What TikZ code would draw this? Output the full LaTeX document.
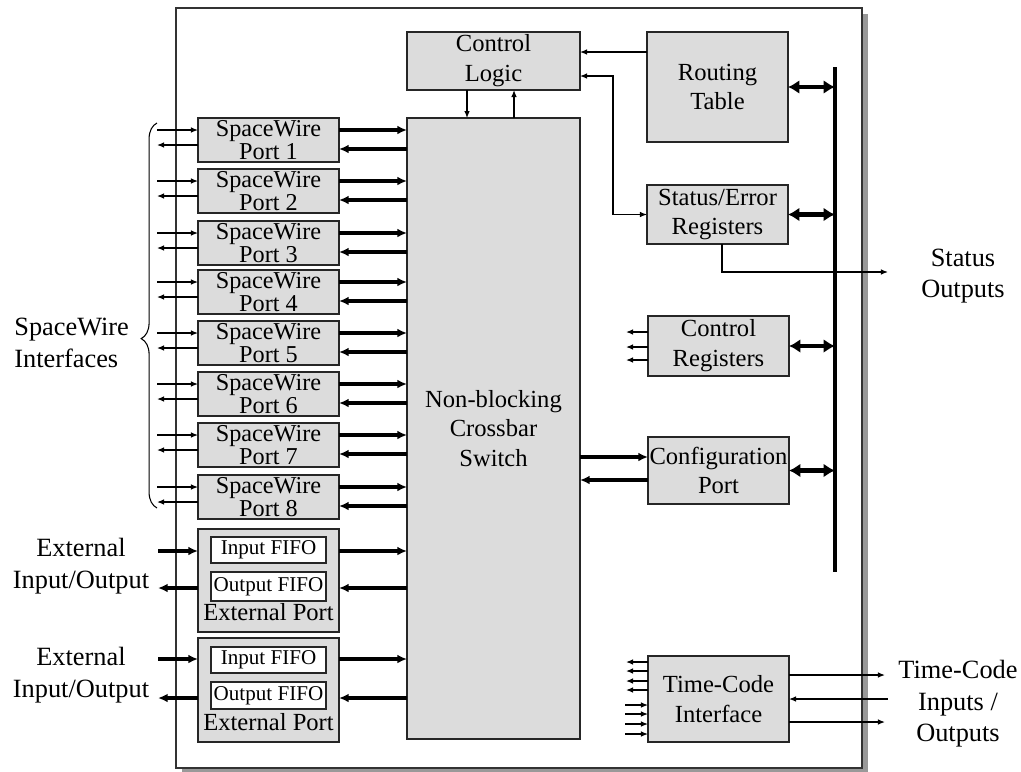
\documentclass[tikz,border=0pt]{standalone}
\usepackage{fontspec}
\setmainfont{Liberation Serif}
\usetikzlibrary{arrows.meta,calc,decorations.pathreplacing}
\definecolor{boxgray}{HTML}{DCDCDC}
\begin{document}
\begin{tikzpicture}[x=0.02cm,y=-0.02cm,
  box/.style={draw=black!85,line width=0.9pt,fill=boxgray,inner sep=0pt,outer sep=0pt,align=center,font=\fontsize{14}{17}\selectfont},
  port/.style={box,minimum width=2.82cm,minimum height=0.88cm,font=\fontsize{13.8}{11.5}\selectfont},
  fifo/.style={draw=black!85,line width=0.8pt,fill=white,inner sep=0pt,outer sep=0pt,minimum width=2.3cm,font=\fontsize{12}{14}\selectfont},
  lbl/.style={align=center,inner sep=0pt,font=\fontsize{15}{18}\selectfont},
  thinarr/.style={line width=0.7pt,-{Latex[length=4pt,width=3.2pt]}},
  thinboth/.style={line width=0.7pt,{Latex[length=4pt,width=3.2pt]}-{Latex[length=4pt,width=3.2pt]}},
  thickarr/.style={line width=1.9pt,-{Latex[length=5.5pt,width=5pt]}},
  dbl/.style={line width=2.4pt,{Latex[length=6.5pt,width=8pt]}-{Latex[length=6.5pt,width=8pt]}}]
\useasboundingbox (0,0) rectangle (1021,771);
% outer frame with shadow
\fill[black!40] (182,14) rectangle (868,776);
\node[draw=black!80,fill=white,line width=0.9pt,inner sep=0pt,outer sep=0pt,minimum width=13.72cm,minimum height=15.2cm] (frame) at (519,388) {};
% main boxes
\node[box,minimum width=3.46cm,minimum height=1.16cm] (ctrl) at (493.5,61) {Control\\Logic};
\node[box,minimum width=2.82cm,minimum height=2.2cm] (rt) at (717.5,87) {Routing\\Table};
\node[box,minimum width=2.82cm,minimum height=1.18cm] (ser) at (717.5,214.5) {Status/Error\\Registers};
\node[box,minimum width=2.82cm,minimum height=1.2cm] (cr) at (718.5,346) {Control\\Registers};
\node[box,minimum width=2.82cm,minimum height=1.34cm] (cfg) at (718.5,470.5) {Configuration\\Port};
\node[box,minimum width=2.82cm,minimum height=1.72cm] (tc) at (718.5,699) {Time-Code\\Interface};
\node[box,minimum width=3.46cm,minimum height=12.42cm] (xbar) at (493.5,428.5) {Non-blocking\\Crossbar\\Switch};
% bus
\coordinate (bt) at (835,67);
\coordinate (bb) at (835,572);
\draw[line width=2.6pt] (bt) -- (bb);
% SpaceWire ports
\foreach \i/\t in {1/119,2/170,3/222,4/271,5/322,6/373,7/424,8/476} {
  \node[port] (p\i) at (268.5,\t+21) {SpaceWire\\Port \i};
  \coordinate (a\i) at ($(p\i.north east)+(0,12)$);
  \coordinate (b\i) at ($(p\i.north east)+(0,31)$);
  \draw[thickarr] (a\i) -- (a\i -| xbar.west);
  \draw[thickarr] (b\i -| xbar.west) -- (b\i);
  \draw[thinarr] ($(p\i.north west)+(-41,12)$) -- ($(p\i.north west)+(0,12)$);
  \draw[thinarr] ($(p\i.north west)+(0,27)$) -- ++(-41,0);
}
% brace and label
\draw[line width=0.6pt,decorate,decoration={brace,amplitude=9pt,aspect=0.44}] (157,508) -- (157,123);
\node[lbl,align=left,anchor=west] (swi) at (14,343) {SpaceWire\\Interfaces};
% external ports
\node[box,minimum width=2.82cm,minimum height=2.06cm] (ext1) at (268.5,580.5) {};
\node[fifo,minimum height=0.52cm] (if1) at (268.5,550) {Input FIFO};
\node[fifo,minimum height=0.58cm] (of1) at (268.5,586.5) {Output FIFO};
\node[inner sep=0pt,font=\fontsize{14}{17}\selectfont] (ep1) at (268.5,612) {External Port};
\node[box,minimum width=2.82cm,minimum height=2.08cm] (ext2) at (268.5,690) {};
\node[fifo,minimum height=0.52cm] (if2) at (268.5,660) {Input FIFO};
\node[fifo,minimum height=0.54cm] (of2) at (268.5,695.5) {Output FIFO};
\node[inner sep=0pt,font=\fontsize{14}{17}\selectfont] (ep2) at (268.5,722) {External Port};
\node[lbl] (eio1) at (81,566) {External\\Input/Output};
\node[lbl] (eio2) at (81,675) {External\\Input/Output};
\coordinate (e1) at ($(ext1.north west)+(0,22)$);
\coordinate (e2) at ($(ext1.north west)+(0,59)$);
\coordinate (e3) at ($(ext2.north west)+(0,21)$);
\coordinate (e4) at ($(ext2.north west)+(0,60)$);
\draw[thickarr] ($(e1)+(-40,0)$) -- (e1);
\draw[thickarr] (e2) -- ++(-40,0);
\draw[thickarr] ($(e3)+(-40,0)$) -- (e3);
\draw[thickarr] (e4) -- ++(-40,0);
\draw[thickarr] (e1 -| ext1.east) -- (e1 -| xbar.west);
\draw[thickarr] (e2 -| xbar.west) -- (e2 -| ext1.east);
\draw[thickarr] (e3 -| ext2.east) -- (e3 -| xbar.west);
\draw[thickarr] (e4 -| xbar.west) -- (e4 -| ext2.east);
% control logic links
\draw[thinarr] ($(ctrl.south west)+(60,0)$) -- ($(xbar.north west)+(60,0)$);
\draw[thinarr] ($(xbar.north west)+(107,0)$) -- ($(ctrl.south west)+(107,0)$);
\coordinate (q1) at ($(rt.north west)+(0,20)$);
\draw[thinarr] (q1) -- (q1 -| ctrl.east);
\coordinate (q2) at ($(ctrl.north east)+(0,44)$);
\draw[thinboth] (q2) -- ++(33,0) |- (ser.west);
% status outputs
\coordinate (q3) at ($(ser.south west)+(75,0)$);
\coordinate (so) at (888,272);
\draw[thinarr] (q3) |- (so);
\node[lbl] (sout) at (963,276) {Status\\Outputs};
% bus double arrows
\draw[dbl] (rt.east) -- (rt.east -| bt);
\draw[dbl] (ser.east) -- (ser.east -| bt);
\draw[dbl] (cr.east) -- (cr.east -| bt);
\draw[dbl] (cfg.east) -- (cfg.east -| bt);
% control register outputs
\foreach \d in {16,31,44} \draw[thinarr] ($(cr.north west)+(0,\d)$) -- ++(-22,0);
% configuration port links
\coordinate (c1) at ($(cfg.north west)+(0,20)$);
\coordinate (c2) at ($(cfg.north west)+(0,43)$);
\draw[thickarr] (c1 -| xbar.east) -- (c1);
\draw[thickarr] (c2) -- (c2 -| xbar.east);
% time-code links
\foreach \d in {6,15,25,34} \draw[thinarr] ($(tc.north west)+(0,\d)$) -- ++(-22,0);
\foreach \d in {49,58,68,78} \draw[thinarr] ($(tc.north west)+(-23,\d)$) -- ++(23,0);
\draw[thinarr] ($(tc.north east)+(0,19)$) -- ++(96,0);
\draw[thinarr] ($(tc.north east)+(99,43)$) -- ($(tc.north east)+(0,43)$);
\draw[thinarr] ($(tc.north east)+(0,66)$) -- ++(96,0);
\node[lbl] (tcio) at (958,704) {Time-Code\\Inputs /\\Outputs};
\end{tikzpicture}
\end{document}
